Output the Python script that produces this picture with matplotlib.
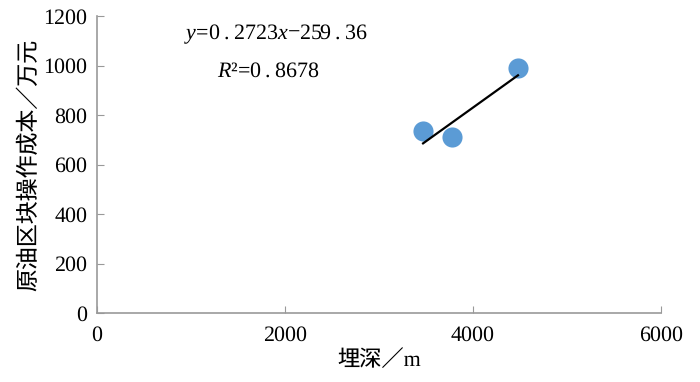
import numpy as np
import matplotlib
matplotlib.use("Agg")
import matplotlib.pyplot as plt

plt.rcParams['font.family'] = ['Liberation Serif', 'Noto Sans CJK SC']
plt.rcParams['mathtext.fontset'] = 'custom'
plt.rcParams['mathtext.rm'] = 'Liberation Serif'
plt.rcParams['mathtext.it'] = 'Liberation Serif:italic'
plt.rcParams['text.hinting'] = 'no_hinting'
plt.rcParams['text.hinting_factor'] = 1

# data
depth = [3470, 3780, 4480]
cost = [737, 713, 990]
slope = 0.2723
intercept = -259.36
r2 = 0.8678

xticks = [0, 2000, 4000, 6000]
yticks = [0, 200, 400, 600, 800, 1000, 1200]

fig = plt.figure(figsize=(7, 3.82), dpi=100)
ax = fig.add_axes([0.1386, 0.1806, 0.8054, 0.7774])

ax.scatter(depth, cost, s=210, color='#5b9bd5', zorder=2, linewidths=0)
xs = np.array([min(depth), max(depth)])
ax.plot(xs, slope * xs + intercept, color='black', lw=1.6, zorder=3)

ax.set_xlim(0, 6000)
ax.set_ylim(0, 1200)
ax.set_xticks(xticks)
ax.set_yticks(yticks)
ax.tick_params(direction='in', length=5, color='#999999', labelsize=16, pad=7)
ax.tick_params(axis='x', pad=9)
for s in ['top', 'right']:
    ax.spines[s].set_visible(False)
for s in ['left', 'bottom']:
    ax.spines[s].set_color('#999999')
    ax.spines[s].set_linewidth(1.2)

ax.set_xlabel('埋深／m', fontsize=16, labelpad=3)
ax.set_ylabel('原油区块操作成本／万元', fontsize=16.5, labelpad=2)

ts = '\u2009'
eq = r'$y$' + '=0' + ts + '.' + ts + '2723' + r'$x$' + '\u2212259' + ts + '.' + ts + '36'
rr = r'$R$' + '²=0' + ts + '.' + ts + '8678'
ax.text(0.318, 0.94, eq, transform=ax.transAxes,
        ha='center', va='center', fontsize=16)
ax.text(0.305, 0.815, rr, transform=ax.transAxes,
        ha='center', va='center', fontsize=16)

fig.savefig('out.png', dpi=100)
